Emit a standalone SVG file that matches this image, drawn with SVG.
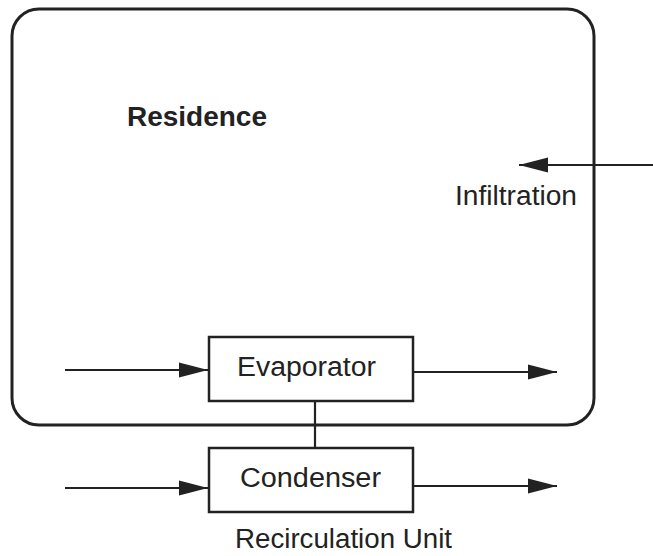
<svg xmlns="http://www.w3.org/2000/svg" width="653" height="556" viewBox="0 0 653 556">
<style>
.t{font-family:"Liberation Sans",Arial,sans-serif;font-size:27px;fill:#222}
.b{font-weight:bold}
.ln{stroke:#222;stroke-width:2.2;fill:none}
.box{stroke:#222;stroke-width:2.5;fill:#fff}
</style>
<defs>
<marker id="ah" markerWidth="30" markerHeight="16" refX="29" refY="8" orient="auto" markerUnits="userSpaceOnUse">
<path d="M0,0.5 L29,8 L0,15.5 Z" fill="#222"/>
</marker>
</defs>
<g id="residence">
<rect x="12" y="9" width="582" height="416" rx="27" ry="27" fill="none" stroke="#222" stroke-width="3"/>
<text class="t b" x="127" y="126" textLength="140" lengthAdjust="spacingAndGlyphs">Residence</text>
</g>
<g id="connectors">
<line class="ln" x1="65" y1="370" x2="208" y2="370" marker-end="url(#ah)"/>
<line class="ln" x1="413" y1="372" x2="557" y2="372" marker-end="url(#ah)"/>
<line class="ln" x1="65" y1="488" x2="208" y2="488" marker-end="url(#ah)"/>
<line class="ln" x1="413" y1="486" x2="557" y2="486" marker-end="url(#ah)"/>
<line class="ln" x1="653" y1="165" x2="519" y2="165" marker-end="url(#ah)"/>
<line class="ln" x1="315" y1="401" x2="315" y2="448"/>
</g>
<g id="infiltration">
<text class="t" x="455" y="205" textLength="122" lengthAdjust="spacingAndGlyphs">Infiltration</text>
</g>
<g id="evaporator">
<rect class="box" x="209" y="337" width="204" height="64"/>
<text class="t" x="237" y="376" textLength="139" lengthAdjust="spacingAndGlyphs">Evaporator</text>
</g>
<g id="condenser">
<rect class="box" x="209" y="448" width="204" height="64"/>
<text class="t" x="240" y="487" textLength="141" lengthAdjust="spacingAndGlyphs">Condenser</text>
</g>
<g id="recirculation">
<text class="t" x="235" y="548" textLength="217" lengthAdjust="spacingAndGlyphs">Recirculation Unit</text>
</g>
</svg>
